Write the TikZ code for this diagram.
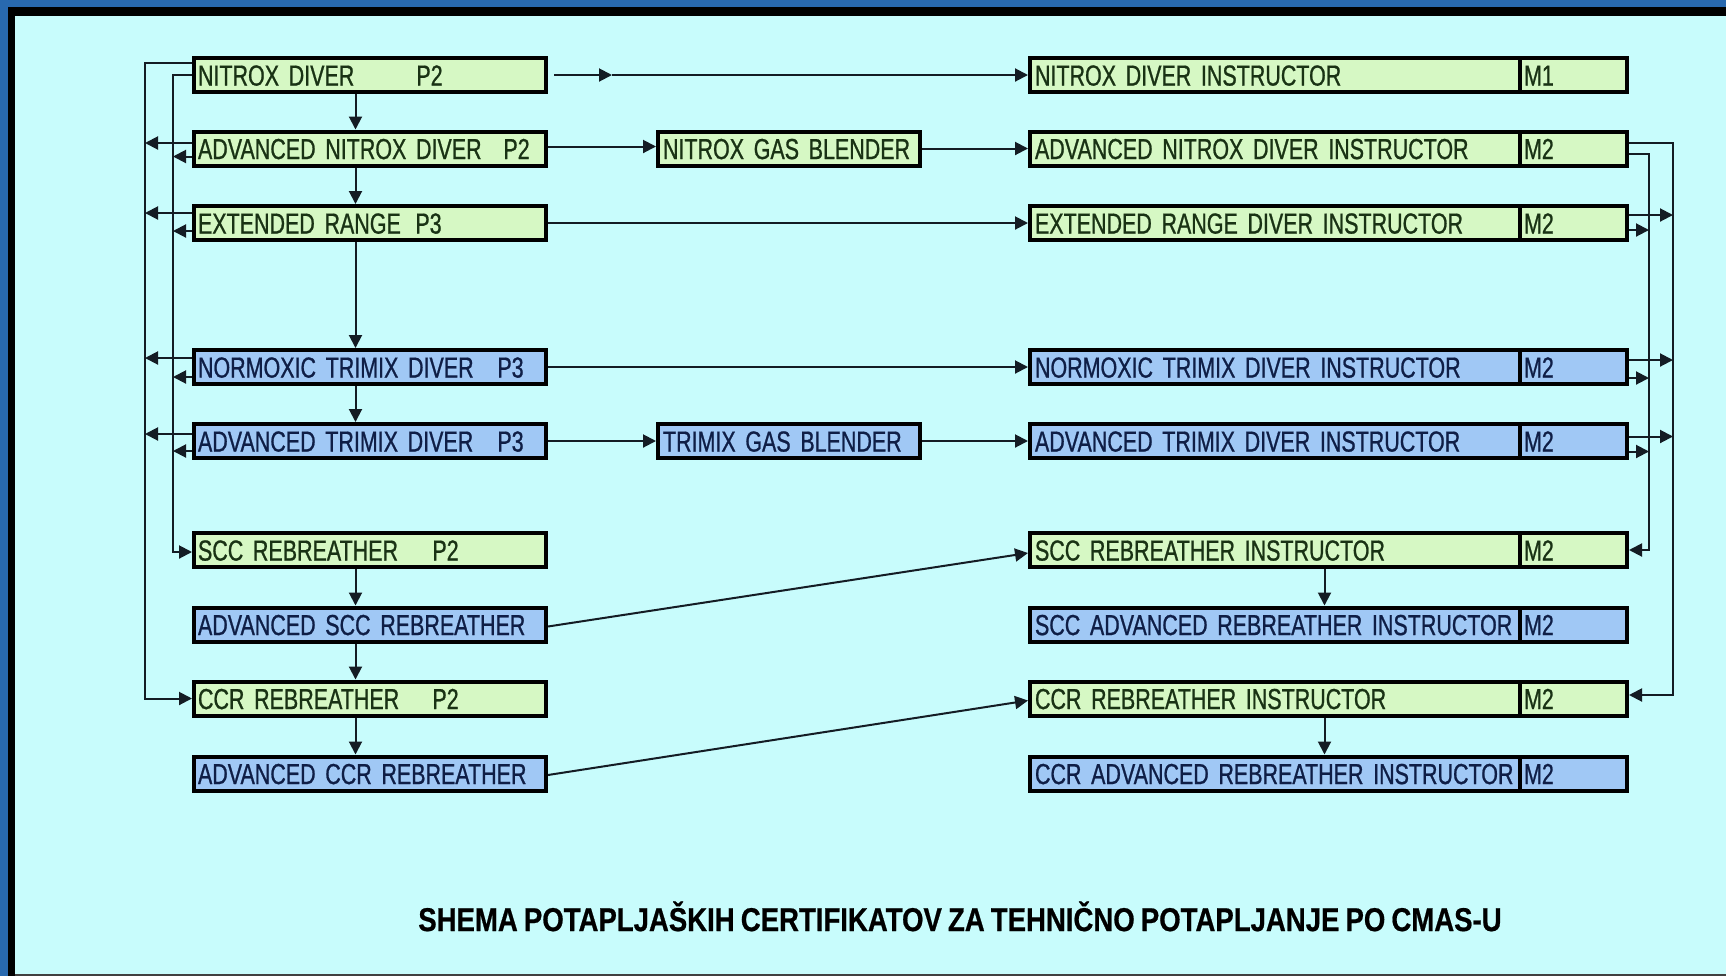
\documentclass[tikz,border=0pt]{standalone}
\usepackage{fontspec}
\usetikzlibrary{calc,arrows.meta}
\newfontfamily\boxfont[FakeStretch=0.74,WordSpace=0.7,FakeBold=0.8]{Liberation Sans}
\newfontfamily\titlefont[FakeStretch=0.835,WordSpace=0.8,FakeBold=0.6]{Liberation Sans}
\hyphenpenalty=10000
\exhyphenpenalty=10000
\definecolor{outerblue}{RGB}{40,105,175}
\definecolor{bgcyan}{RGB}{200,252,252}
\definecolor{gfill}{RGB}{214,248,196}
\definecolor{bfill}{RGB}{160,200,245}
\definecolor{gtext}{RGB}{25,50,20}
\definecolor{btext}{RGB}{15,30,70}
\definecolor{lincol}{RGB}{20,28,36}
\begin{document}
\begin{tikzpicture}[x=0.5pt,y=-0.5pt,
  box/.style={draw=black, line width=2pt, minimum height=17pt, inner ysep=0pt,
    text height=10.57pt, text depth=0pt, align=left,
    font=\boxfont\fontsize{14.5}{14.5}\selectfont},
  lbox/.style={box, inner xsep=2pt, text width=172pt},
  cbox/.style={box, inner xsep=2.5pt, text width=126pt},
  rbox/.style={box, inner xsep=2.5pt, text width=240pt},
  mbox/.style={box, inner xsep=2pt, text width=49.5pt},
  gbox/.style={fill=gfill, text=gtext},
  bbox/.style={fill=bfill, text=btext},
  plab/.style={anchor=west, inner sep=0pt, text height=10.57pt, text depth=0pt,
    font=\boxfont\fontsize{14.5}{14.5}\selectfont},
  conn/.style={draw=lincol, line width=1pt},
  arr/.style={conn, -{Triangle[length=6.5pt,width=6.5pt]}}]
\useasboundingbox (0,0) rectangle (1726,976);
% background frame
\fill[outerblue] (0,0) rectangle (1726,976);
\fill[black] (8,7) rectangle (1726,976);
\fill[bgcyan] (15,16) rectangle (1726,974);
\fill[black!75] (15,974) rectangle (1726,976);
% rails
\coordinate (LO) at (145,0);
\coordinate (LI) at (173,0);
\coordinate (RO) at (1673,0);
\coordinate (RI) at (1649,0);
% left column
\node[lbox,gbox] (nd) at (370,75) {NITROX DIVER};
\node[lbox,gbox] (and) at (370,148.5) {ADVANCED NITROX DIVER};
\node[lbox,gbox] (er) at (370,223) {EXTENDED RANGE};
\node[lbox,bbox] (nt) at (370,367) {NORMOXIC TRIMIX DIVER};
\node[lbox,bbox] (at) at (370,441) {ADVANCED TRIMIX DIVER};
\node[lbox,gbox] (scc) at (370,550) {SCC REBREATHER};
\node[lbox,bbox] (ascc) at (370,624.5) {ADVANCED SCC REBREATHER};
\node[lbox,gbox] (ccr) at (370,698.5) {CCR REBREATHER};
\node[lbox,bbox] (accr) at (370,773.5) {ADVANCED CCR REBREATHER};
\node[plab,text=gtext] (ndp) at (416,75) {P2};
\node[plab,text=gtext] (andp) at (503,148.5) {P2};
\node[plab,text=gtext] (erp) at (415,223) {P3};
\node[plab,text=btext] (ntp) at (497,367) {P3};
\node[plab,text=btext] (atp) at (497,441) {P3};
\node[plab,text=gtext] (sccp) at (432,550) {P2};
\node[plab,text=gtext] (ccrp) at (432,698.5) {P2};
% middle
\node[cbox,gbox] (ngb) at (789,148.5) {NITROX GAS BLENDER};
\node[cbox,bbox] (tgb) at (789,441) {TRIMIX GAS BLENDER};
% right column
\node[rbox,gbox] (ndi) at (1275,75) {NITROX DIVER INSTRUCTOR};
\node[mbox,gbox] (ndim) at (1573.5,75) {M1};
\node[rbox,gbox] (andi) at (1275,148.5) {ADVANCED NITROX DIVER INSTRUCTOR};
\node[mbox,gbox] (andim) at (1573.5,148.5) {M2};
\node[rbox,gbox] (eri) at (1275,223) {EXTENDED RANGE DIVER INSTRUCTOR};
\node[mbox,gbox] (erim) at (1573.5,223) {M2};
\node[rbox,bbox] (nti) at (1275,367) {NORMOXIC TRIMIX DIVER INSTRUCTOR};
\node[mbox,bbox] (ntim) at (1573.5,367) {M2};
\node[rbox,bbox] (ati) at (1275,441) {ADVANCED TRIMIX DIVER INSTRUCTOR};
\node[mbox,bbox] (atim) at (1573.5,441) {M2};
\node[rbox,gbox] (scci) at (1275,550) {SCC REBREATHER INSTRUCTOR};
\node[mbox,gbox] (sccim) at (1573.5,550) {M2};
\node[rbox,bbox] (sccai) at (1275,624.5) {\mbox{SCC ADVANCED REBREATHER INSTRUCTOR}};
\node[mbox,bbox] (sccaim) at (1573.5,624.5) {M2};
\node[rbox,gbox] (ccri) at (1275,698.5) {CCR REBREATHER INSTRUCTOR};
\node[mbox,gbox] (ccrim) at (1573.5,698.5) {M2};
\node[rbox,bbox] (ccrai) at (1275,773.5) {\mbox{CCR ADVANCED REBREATHER INSTRUCTOR}};
\node[mbox,bbox] (ccraim) at (1573.5,773.5) {M2};
% title
\node[inner sep=0pt, text height=12.03pt, text depth=0pt,
  font=\titlefont\bfseries\fontsize{16.5}{16.5}\selectfont] (title) at (960,919)
  {SHEMA POTAPLJAŠKIH CERTIFIKATOV ZA TEHNIČNO POTAPLJANJE PO CMAS-U};
% vertical arrows left
\foreach \a/\b in {nd/and, and/er, er/nt, nt/at, scc/ascc, ascc/ccr, ccr/accr}
  \draw[arr] ($(\a.south)+(-14.5,0)$) -- ($(\b.north)+(-14.5,0)$);
% vertical arrows right
\foreach \a/\b in {scci/sccai, ccri/ccrai}
  \draw[arr] ($(\a.south)+(49.5,0)$) -- ($(\b.north)+(49.5,0)$);
% left rails
\draw[arr] ($(nd.west)+(0,-12)$) -| (LO |- ccr.west) -- (ccr.west);
\draw[arr] (nd.west) -| ($(LI |- scc.west)+(0,2)$) -- ($(scc.west)+(0,2)$);
\foreach \n/\o/\i in {and/-5.5/8, er/-10/8, nt/-9/10, at/-7/10}{
  \draw[arr] ($(\n.west)+(0,\o)$) -- ($(\n.west -| LO)+(0,\o)$);
  \draw[arr] ($(\n.west)+(0,\i)$) -- ($(\n.west -| LI)+(0,\i)$);
}
% right rails
\draw[arr] ($(andim.east)+(0,-5.5)$) -| ($(RO |- ccrim.east)+(0,-3.5)$) -- ($(ccrim.east)+(0,-3.5)$);
\draw[arr] ($(andim.east)+(0,5.5)$) -| (RI |- sccim.east) -- (sccim.east);
\foreach \n/\o/\i in {erim/-8/7, ntim/-7/11, atim/-4.5/10.5}{
  \draw[arr] ($(\n.east)+(0,\o)$) -- ($(\n.east -| RO)+(0,\o)$);
  \draw[arr] ($(\n.east)+(0,\i)$) -- ($(\n.east -| RI)+(0,\i)$);
}
% horizontal arrows
\coordinate (mid1) at (612,75);
\draw[arr] ($(nd.east)+(6,0)$) -- (mid1);
\draw[arr] (mid1) -- (ndi.west);
\draw[arr] ($(and.east)+(0,-2)$) -- ($(ngb.west)+(0,-2)$);
\draw[arr] (ngb.east) -- (andi.west);
\draw[arr] (er.east) -- (eri.west);
\draw[arr] (nt.east) -- (nti.west);
\draw[arr] (at.east) -- (tgb.west);
\draw[arr] (tgb.east) -- (ati.west);
\draw[arr] ($(ascc.east)+(0,2)$) -- ($(scci.west)+(0,3)$);
\draw[arr] ($(accr.east)+(0,1.5)$) -- ($(ccri.west)+(0,2)$);
\end{tikzpicture}
\end{document}
